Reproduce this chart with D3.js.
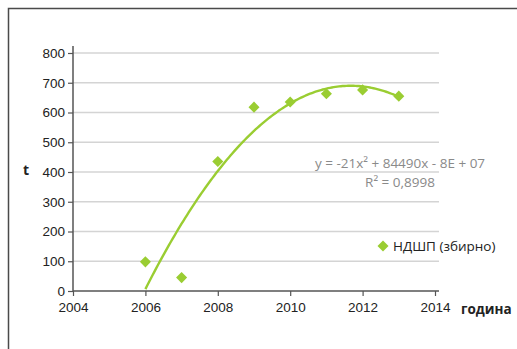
<!DOCTYPE html>
<html>
<head>
<meta charset="utf-8">
<script src="https://cdn.jsdelivr.net/npm/d3@7"></script>
<style>
  html, body { margin: 0; padding: 0; background: #fff; }
  svg { display: block; font-family: "Open Sans", "Noto Sans", sans-serif; }
</style>
</head>
<body>
<svg id="chart" width="517" height="349"></svg>
<script>
// Annual totals, НДШП (збирно)
const years = [2006, 2007, 2008, 2009, 2010, 2011, 2012, 2013];
const values = [98, 45, 435, 618, 635, 663, 676, 655];
const xTicks = [2004, 2006, 2008, 2010, 2012, 2014];
const yTicks = [0, 100, 200, 300, 400, 500, 600, 700, 800];
const seriesName = "НДШП (збирно)";
const equationText = "y = -21x² + 84490x - 8E + 07";
const r2Text = "R² = 0,8998";

const green = "#9acd32";
const svg = d3.select("#chart");

// outer chart frame
svg.append("rect")
  .attr("x", 8.5).attr("y", 8.5)
  .attr("width", 540).attr("height", 380)
  .attr("fill", "none").attr("stroke", "#4a4a4a").attr("stroke-width", 1.5);

const x = d3.scaleLinear().domain([2004, 2014]).range([73, 435]);
const y = d3.scaleLinear().domain([0, 800]).range([291, 53]);
const plotRight = 439, plotTop = 46;

// horizontal gridlines
svg.append("g").selectAll("line")
  .data(yTicks.filter(d => d > 0))
  .join("line")
  .attr("x1", x(2004)).attr("x2", plotRight)
  .attr("y1", d => y(d)).attr("y2", d => y(d))
  .attr("stroke", "#d4d4d4").attr("stroke-width", 1.5);

// y axis
const yAxis = svg.append("g")
  .attr("transform", `translate(${x(2004)},0)`)
  .call(d3.axisLeft(y).tickValues(yTicks).tickSize(5).tickPadding(3).tickFormat(d3.format("d")));
yAxis.select(".domain").remove();
yAxis.append("line")
  .attr("x1", 0).attr("x2", 0).attr("y1", plotTop).attr("y2", y(0))
  .attr("stroke", "#555").attr("stroke-width", 1.5);
yAxis.selectAll(".tick line").attr("stroke", "#555").attr("stroke-width", 1.2);
yAxis.selectAll(".tick text").attr("fill", "#222").attr("font-size", 13.5);

// x axis
const xAxis = svg.append("g")
  .attr("transform", `translate(0,${y(0)})`)
  .call(d3.axisBottom(x).tickValues(xTicks).tickSize(5).tickPadding(6).tickFormat(d3.format("d")));
xAxis.select(".domain").remove();
xAxis.append("line")
  .attr("x1", x(2004)).attr("x2", plotRight).attr("y1", 0).attr("y2", 0)
  .attr("stroke", "#555").attr("stroke-width", 1.5);
xAxis.selectAll(".tick line").attr("stroke", "#555").attr("stroke-width", 1.2);
xAxis.selectAll(".tick text").attr("fill", "#222").attr("font-size", 13.5);

// axis titles
svg.append("text").attr("x", 26).attr("y", 175)
  .attr("font-size", 14).attr("font-weight", "bold").attr("fill", "#222")
  .attr("text-anchor", "middle").text("t");
svg.append("text").attr("x", 461).attr("y", 314)
  .attr("font-size", 13.5).attr("font-weight", "bold").attr("fill", "#222").text("година");

// second-order polynomial trendline, least squares fit of the series
function polyFit2(xs, ys) {
  const xm = d3.mean(xs);
  const t = xs.map(v => v - xm);
  const n = xs.length;
  const s2 = d3.sum(t, v => v * v), s3 = d3.sum(t, v => v ** 3), s4 = d3.sum(t, v => v ** 4);
  const s1 = d3.sum(t);
  const sy = d3.sum(ys), sty = d3.sum(t, (v, i) => v * ys[i]), st2y = d3.sum(t, (v, i) => v * v * ys[i]);
  // solve 3x3 normal equations
  const A = [[n, s1, s2, sy], [s1, s2, s3, sty], [s2, s3, s4, st2y]];
  for (let i = 0; i < 3; i++) {
    for (let k = i + 1; k < 3; k++) {
      const f = A[k][i] / A[i][i];
      for (let j = i; j < 4; j++) A[k][j] -= f * A[i][j];
    }
  }
  const c = [0, 0, 0];
  for (let i = 2; i >= 0; i--) {
    let s = A[i][3];
    for (let j = i + 1; j < 3; j++) s -= A[i][j] * c[j];
    c[i] = s / A[i][i];
  }
  return v => c[0] + c[1] * (v - xm) + c[2] * (v - xm) ** 2;
}
const fit = polyFit2(years, values);
const fitPts = d3.range(years[0], years[years.length - 1] + 0.001, 0.05);
svg.append("path")
  .datum(fitPts)
  .attr("d", d3.line().x(d => x(d)).y(d => y(fit(d))))
  .attr("fill", "none").attr("stroke", green).attr("stroke-width", 2.4);

// data markers
const diamond = d3.symbol().type(d3.symbolDiamond2).size(78);
svg.append("g").selectAll("path")
  .data(years.map((yr, i) => [yr, values[i]]))
  .join("path")
  .attr("d", diamond)
  .attr("transform", d => `translate(${x(d[0])},${y(d[1])})`)
  .attr("fill", green);

// trendline label
svg.append("text").attr("x", 400).attr("y", 168).attr("text-anchor", "middle")
  .attr("font-size", 13.5).attr("fill", "#8a8a8a").text(equationText);
svg.append("text").attr("x", 400).attr("y", 187).attr("text-anchor", "middle")
  .attr("font-size", 13.5).attr("fill", "#8a8a8a").text(r2Text);

// legend
svg.append("path").attr("d", diamond).attr("transform", "translate(383,246)").attr("fill", green);
svg.append("text").attr("x", 393).attr("y", 251)
  .attr("font-size", 13.5).attr("fill", "#222").text(seriesName);
</script>
</body>
</html>
